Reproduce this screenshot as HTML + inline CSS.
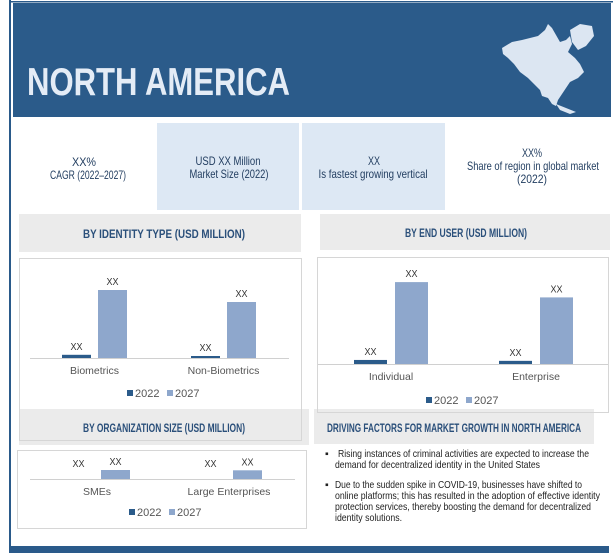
<!DOCTYPE html>
<html><head><meta charset="utf-8"><style>
html,body{margin:0;padding:0;background:#fff;}
svg{display:block;font-family:"Liberation Sans Narrow","Liberation Sans",sans-serif;}
</style></head><body>
<svg id="root" width="616" height="553" viewBox="0 0 616 553" xmlns="http://www.w3.org/2000/svg">
<rect x="9" y="0" width="2" height="553" fill="#2a5a8a"/>
<rect x="9" y="1" width="604" height="1.5" fill="#2a5a8a"/>
<rect x="13" y="3" width="598" height="114" fill="#2b5b8a"/>
<text x="27" y="95" font-size="39" font-weight="bold" fill="#e4ecf6" textLength="263" lengthAdjust="spacingAndGlyphs">NORTH AMERICA</text>
<path d="M502,48 L512,42 L522,40 L530,38 L538,36 L545,30 L548,24 L552,28 L556,35 L560,42 L566,40 L570,36 L572,44 L568,52 L575,58 L580,64 L584,72 L578,78 L570,82 L566,88 L562,94 L558,100 L556,106 L552,104 L548,98 L542,96 L540,90 L534,84 L528,78 L520,72 L514,64 L508,58 L503,54 Z M570,30 L580,24 L592,26 L594,36 L586,46 L578,50 L572,42 Z M556,104 L566,108 L576,112 L570,114 L560,110 Z" fill="#dce6f2"/>
<rect x="157" y="123" width="142" height="87" fill="#dde8f4"/>
<rect x="302" y="123" width="143" height="87" fill="#dde8f4"/>
<g font-size="12" fill="#1f3b5e" text-anchor="middle">
<text x="84" y="166" textLength="24" lengthAdjust="spacingAndGlyphs">XX%</text>
<text x="88" y="179" textLength="76" lengthAdjust="spacingAndGlyphs">CAGR (2022–2027)</text>
<text x="228" y="165" textLength="65" lengthAdjust="spacingAndGlyphs">USD XX Million</text>
<text x="229" y="178" textLength="79" lengthAdjust="spacingAndGlyphs">Market Size (2022)</text>
<text x="374" y="165" textLength="12" lengthAdjust="spacingAndGlyphs">XX</text>
<text x="373" y="178" textLength="109" lengthAdjust="spacingAndGlyphs">Is fastest growing vertical</text>
<text x="532" y="157" textLength="20" lengthAdjust="spacingAndGlyphs">XX%</text>
<text x="533" y="170" textLength="132" lengthAdjust="spacingAndGlyphs">Share of region in global market</text>
<text x="532" y="183" textLength="30" lengthAdjust="spacingAndGlyphs">(2022)</text>
</g>
<g fill="#ebebeb">
<rect x="19" y="214" width="282" height="38"/>
<rect x="320" y="214" width="290" height="36"/>
<rect x="19" y="409" width="290" height="36"/>
<rect x="314" y="409" width="280" height="35"/>
</g>
<g font-size="12" font-weight="bold" fill="#2a4f7a">
<text x="83" y="238" textLength="162" lengthAdjust="spacingAndGlyphs">BY IDENTITY TYPE (USD MILLION)</text>
<text x="405" y="237" textLength="122" lengthAdjust="spacingAndGlyphs">BY  END USER (USD MILLION)</text>
<text x="83" y="432" textLength="162" lengthAdjust="spacingAndGlyphs">BY ORGANIZATION SIZE (USD MILLION)</text>
<text x="327" y="432" textLength="254" lengthAdjust="spacingAndGlyphs">DRIVING FACTORS FOR MARKET GROWTH IN NORTH AMERICA</text>
</g>
<g fill="none" stroke="#d6d6d6">
<rect x="19.5" y="258.5" width="282" height="182"/>
<rect x="317.5" y="257.5" width="291" height="155"/>
<rect x="17.5" y="450.5" width="289" height="78"/>
</g>
<g id="charts"></g>
<g font-size="10.4" fill="#222">
<text x="325" y="457">▪</text>
<text x="338" y="457" textLength="251" lengthAdjust="spacingAndGlyphs">Rising instances of criminal activities are expected to increase the</text>
<text x="335" y="468" textLength="205" lengthAdjust="spacingAndGlyphs">demand for decentralized identity in the United States</text>
<text x="325" y="488">▪</text>
<text x="335" y="488" textLength="247" lengthAdjust="spacingAndGlyphs">Due to the sudden spike in COVID-19, businesses have shifted to</text>
<text x="335" y="499" textLength="265" lengthAdjust="spacingAndGlyphs">online platforms; this has resulted in the adoption of effective identity</text>
<text x="335" y="510" textLength="256" lengthAdjust="spacingAndGlyphs">protection services, thereby boosting the demand for decentralized</text>
<text x="335" y="521" textLength="67" lengthAdjust="spacingAndGlyphs">identity solutions.</text>
</g>
<rect x="9" y="546" width="600" height="7" fill="#2a5a8a"/>
</svg>
<script>
const identityCategories = ["Biometrics", "Non-Biometrics"];
const identity2022 = [4, 2.5];
const identity2027 = [85, 70];
const endUserCategories = ["Individual", "Enterprise"];
const endUser2022 = [4.5, 3.5];
const endUser2027 = [91, 74];
const orgCategories = ["SMEs", "Large Enterprises"];
const org2022 = [0, 0];
const org2027 = [30, 29];
const valueLabels = ["XX", "XX"];
const seriesNames = ["2022", "2027"];

const NS = "http://www.w3.org/2000/svg";
const g = document.getElementById("charts");
function mk(tag, attrs, txt) {
  const e = document.createElementNS(NS, tag);
  for (const k in attrs) e.setAttribute(k, attrs[k]);
  if (txt !== undefined) e.textContent = txt;
  g.appendChild(e);
  return e;
}
function drawChart(cfg, cats, s1, s2, prefix) {
  const y = v => cfg.base - v * cfg.scale;
  const line = mk("line", {x1: cfg.x0, x2: cfg.x1, y1: cfg.base + 0.5, y2: cfg.base + 0.5, stroke: "#d0d0d0"});
  
  
  cats.forEach((c, i) => {
    const gx = cfg.groupX[i];
    [s1, s2].forEach((s, j) => {
      const bx = gx + j * (cfg.bw + cfg.gap);
      const top = y(s[i]);
      const r = mk("rect", {x: bx, y: top, width: cfg.bw, height: Math.max(0, cfg.base - top), fill: j ? "#8ea7cc" : "#2b5b8a"});
      
      
      const t = mk("text", {x: bx + cfg.bw / 2, y: top - 5 - (j === 0 && s[i] === 0 ? 7 : 0), "font-size": 10, fill: "#333", "text-anchor": "middle", textLength: 12, lengthAdjust: "spacingAndGlyphs"}, valueLabels[j]);
      
      
    });
    const lbl = mk("text", {x: gx + cfg.bw + cfg.gap / 2, y: cfg.base + 16, "font-size": 10.5, fill: "#555", "text-anchor": "middle"}, c);
    
    
  });
  const lx = cfg.legendX, ly = cfg.legendY;
  seriesNames.forEach((n, j) => {
    const sw = mk("rect", {x: lx + j * 40, y: ly - 7, width: 6, height: 6, fill: j ? "#8ea7cc" : "#2b5b8a"});
    
    
    const t = mk("text", {x: lx + j * 40 + 8, y: ly, "font-size": 11, fill: "#555"}, n);
    
    
  });
}
drawChart({base: 358, scale: 0.8, x0: 30, x1: 289, groupX: [62, 191], bw: 29, gap: 7, legendX: 127, legendY: 397}, identityCategories, identity2022, identity2027, "identity");
drawChart({base: 364, scale: 0.9, x0: 318, x1: 608, groupX: [354, 499], bw: 33, gap: 8, legendX: 426, legendY: 404}, endUserCategories, endUser2022, endUser2027, "enduser");
drawChart({base: 479, scale: 0.3, x0: 30, x1: 295, groupX: [64, 196], bw: 29, gap: 8, legendX: 129, legendY: 516}, orgCategories, org2022, org2027, "orgsize");
</script>
</body></html>
